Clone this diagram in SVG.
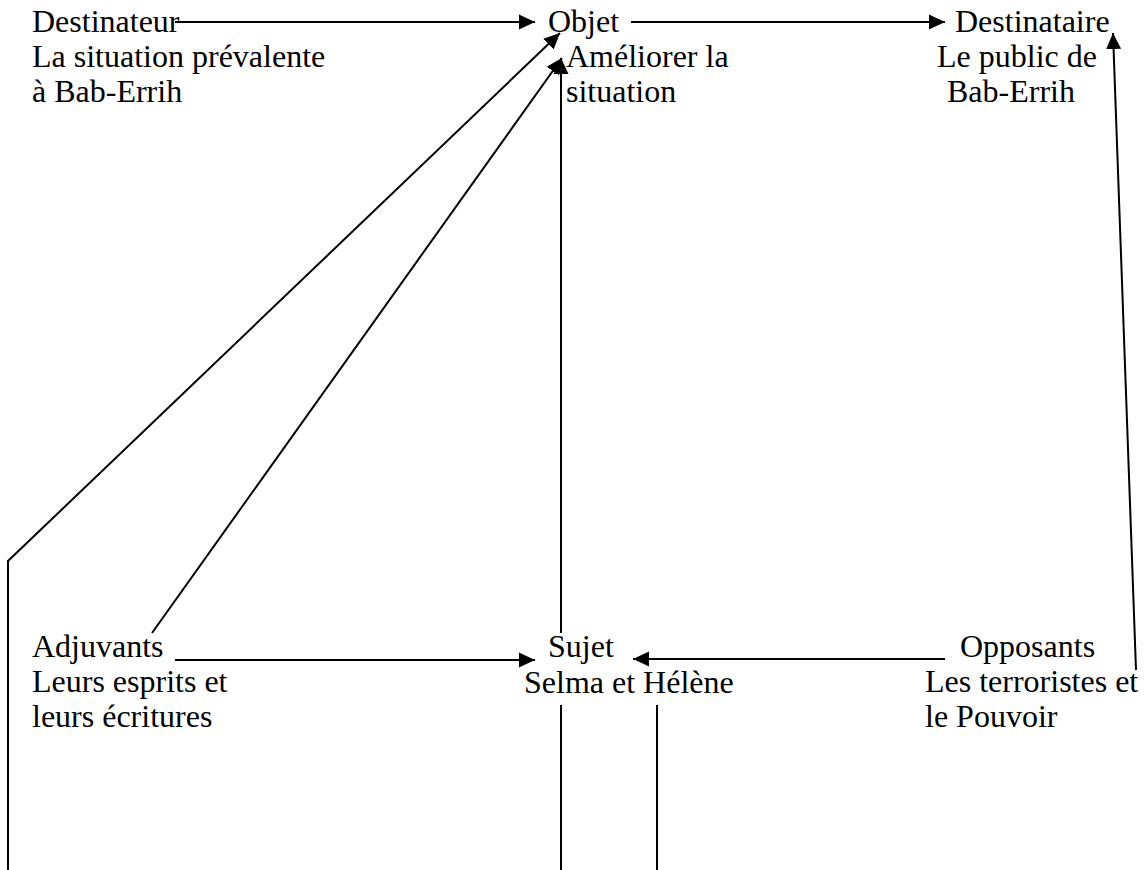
<svg xmlns="http://www.w3.org/2000/svg" width="1144" height="870" viewBox="0 0 1144 870">
<style>
text{font-family:"Liberation Serif","Times New Roman",serif;font-size:32px;fill:#000}
.c{stroke:#000;stroke-width:2;fill:none}
</style>
<defs>
<marker id="ah" markerUnits="userSpaceOnUse" markerWidth="17" markerHeight="16" refX="16" refY="8" orient="auto" viewBox="0 0 17 16">
<path d="M0,0.5 L16,8 L0,15.5 z" fill="#000"/>
</marker>
</defs>
<rect width="1144" height="870" fill="#fff"/>
<g id="connectors">
<path class="c" d="M175,22 L535,22" marker-end="url(#ah)"/>
<path class="c" d="M631,22 L945,22" marker-end="url(#ah)"/>
<path class="c" d="M8,870 L8,561 L560,33" marker-end="url(#ah)"/>
<path class="c" d="M152,633 L562,58" marker-end="url(#ah)"/>
<path class="c" d="M561,633 L561,58" marker-end="url(#ah)"/>
<path class="c" d="M175,660 L535,660" marker-end="url(#ah)"/>
<path class="c" d="M945,659 L633,659" marker-end="url(#ah)"/>
<path class="c" d="M1136,670 L1113,33" marker-end="url(#ah)"/>
<path class="c" d="M561,705 L561,870"/>
<path class="c" d="M657,705 L657,870"/>
</g>
<g id="destinateur">
<text x="32" y="32">Destinateur</text>
<text x="32" y="67">La situation prévalente</text>
<text x="32" y="102">à Bab-Errih</text>
</g>
<g id="objet">
<text x="548" y="32">Objet</text>
<text x="566" y="67">Améliorer la</text>
<text x="566" y="102">situation</text>
</g>
<g id="destinataire">
<text x="955" y="32">Destinataire</text>
<text x="937" y="67">Le public de</text>
<text x="947" y="102">Bab-Errih</text>
</g>
<g id="adjuvants">
<text x="32" y="657">Adjuvants</text>
<text x="32" y="692">Leurs esprits et</text>
<text x="32" y="727">leurs écritures</text>
</g>
<g id="sujet">
<text x="548" y="657">Sujet</text>
<text x="524" y="693">Selma et Hélène</text>
</g>
<g id="opposants">
<text x="960" y="657">Opposants</text>
<text x="925" y="692">Les terroristes et</text>
<text x="925" y="727">le Pouvoir</text>
</g>
</svg>
